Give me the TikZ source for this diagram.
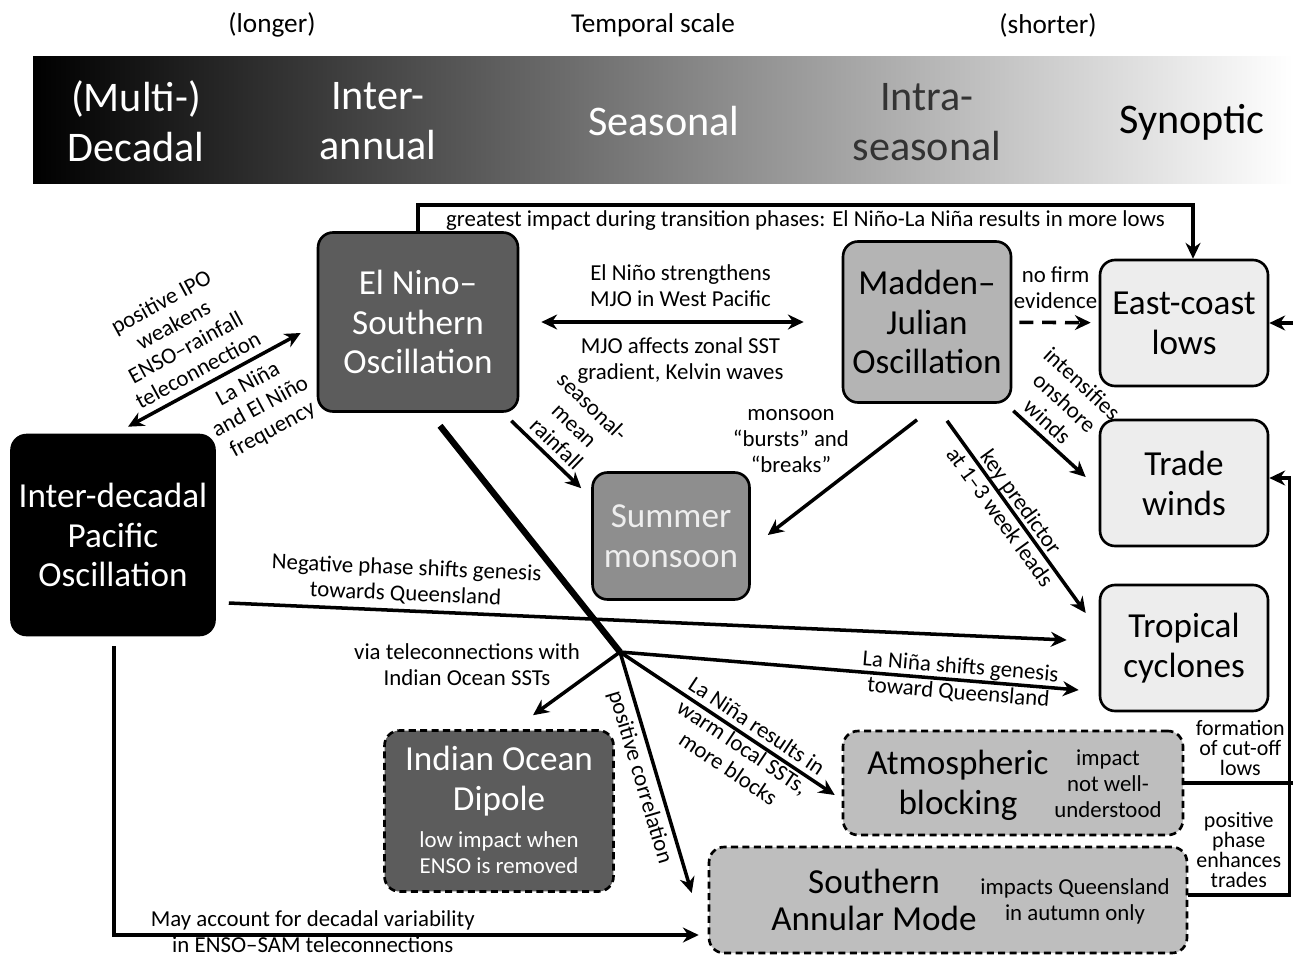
\documentclass[tikz,border=0pt]{standalone}
\usepackage{fontspec}
\setmainfont{Carlito}
\usepackage{tikz}
\usetikzlibrary{positioning, arrows.meta}

\definecolor{ensofill}{HTML}{5C5C5C}
\definecolor{mjofill}{HTML}{B4B4B4}
\definecolor{lightfill}{HTML}{EDEDED}
\definecolor{smfill}{HTML}{8E8E8E}
\definecolor{smtext}{HTML}{EEEEEE}
\definecolor{blockfill}{HTML}{BEBEBE}
\definecolor{intratext}{HTML}{333333}

\begin{document}
\begin{tikzpicture}[x=0.02cm, y=-0.02cm, >={Stealth[length=9pt,width=8.5pt]},
    box/.style={rectangle, rounded corners=0.3cm, draw, line width=1.5pt, align=center, font=\fontsize{20}{22.7}\selectfont},
    dbox/.style={box, dash pattern=on 4pt off 2.5pt},
    bigtxt/.style={align=center, font=\fontsize{20}{22.7}\selectfont},
    lbl/.style={align=center, inner sep=1pt, font=\fontsize{13}{14.7}\selectfont},
    tightlbl/.style={lbl, font=\fontsize{12.5}{11.4}\selectfont},
    conn/.style={->, line width=2pt},
    scaletxt/.style={align=center, font=\fontsize{24}{28.4}\selectfont}]
    \useasboundingbox (0,0) rectangle (1293,956);
    \clip (0,0) rectangle (1293,956);
    % Temporal scale bar
    \node[font=\fontsize{15.5}{18}\selectfont] (longer) at (272,25) {(longer)};
    \node[font=\fontsize{15.5}{18}\selectfont] (temporal) at (653,25) {Temporal scale};
    \node[font=\fontsize{15.5}{18}\selectfont] (shorter) at (1048,25) {(shorter)};
    \shade[left color=black, right color=white] (33,57) rectangle (1293,183);
    \node[scaletxt, text=white] (decadal) at (136,121) {(Multi-)\\Decadal};
    \node[scaletxt, text=white] (interannual) at (378,121) {Inter-\\annual};
    \node[scaletxt, text=white] (seasonal) at (664,121) {Seasonal};
    \node[scaletxt, text=intratext] (intraseasonal) at (927,122) {Intra-\\seasonal};
    \node[scaletxt] (synoptic) at (1192,122) {Synoptic};
    % Climate drivers
    \node[box, fill=ensofill, text=white, minimum width=4cm, minimum height=3.58cm] (enso) at (418,322) {El Nino–\\Southern\\Oscillation};
    \node[box, fill=mjofill, minimum width=3.36cm, minimum height=3.22cm] (mjo) at (927,322) {Madden–\\Julian\\Oscillation};
    \node[box, fill=black, text=white, minimum width=4.06cm, minimum height=4cm] (ipo) at (113,535) {Inter-decadal\\Pacific\\Oscillation};
    \node[box, fill=smfill, text=smtext, minimum width=3.14cm, minimum height=2.54cm] (sm) at (671,536) {Summer\\monsoon};
    % Weather systems
    \node[box, fill=lightfill, minimum width=3.36cm, minimum height=2.52cm] (ecl) at (1184,323) {East-coast\\lows};
    \node[box, fill=lightfill, minimum width=3.36cm, minimum height=2.52cm] (tw) at (1184,483) {Trade\\winds};
    \node[box, fill=lightfill, minimum width=3.36cm, minimum height=2.52cm] (tc) at (1184,648) {Tropical\\cyclones};
    % Dashed boxes
    \node[dbox, fill=ensofill, minimum width=4.58cm, minimum height=3.22cm] (iod) at (499,811) {};
    \node[bigtxt, text=white] (iodT) at (499,781) {Indian Ocean\\Dipole};
    \node[lbl, text=white] (iodS) at (499,853) {low impact when\\ENSO is removed};
    \node[dbox, fill=blockfill, minimum width=6.8cm, minimum height=2.08cm] (ab) at (1013,783) {};
    \node[bigtxt] (abT) at (958,785) {Atmospheric\\blocking};
    \node[lbl] (abS) at (1108,784) {impact\\not well-\\understood};
    \node[dbox, fill=blockfill, minimum width=9.56cm, minimum height=2.12cm] (sam) at (948,900) {};
    \node[bigtxt, font=\fontsize{20}{21.5}\selectfont] (samT) at (874,900) {Southern\\Annular Mode};
    \node[lbl] (samS) at (1075,901) {impacts Queensland\\in autumn only};
    % ENSO links
    \draw[conn] (enso.north) -- (418,205) -| node[lbl, pos=0.25, below=1pt] (toplbl) {greatest impact during transition phases: El Niño-La Niña results in more lows} ([xshift=0.18cm]ecl.north);
    \draw[<->, line width=2pt, shorten <=0.44cm, shorten >=0.76cm] (enso) -- node[lbl, above=7pt] (ensomjoA) {El Niño strengthens\\MJO in West Pacific} node[lbl, below=7pt] (ensomjoB) {MJO affects zonal SST\\gradient, Kelvin waves} (mjo);
    \draw[<->, line width=2pt] ([shift={(15,-7)}]ipo.north) -- node[lbl, sloped, pos=0.45, above=3pt] (ipoA) {positive IPO\\weakens\\ENSO–rainfall\\teleconnection} node[lbl, sloped, pos=0.64, below=4pt] (ipoB) {La Niña\\and El Niño\\frequency} ([shift={(-16,11)}]enso.west);
    \draw[conn] ([shift={(-8,8)}]enso.south east) -- node[lbl, sloped, midway, above=2pt] (rainlbl) {seasonal-\\mean\\rainfall} ([shift={(-10,17)}]sm.north west);
    % ENSO trunk and branches
    \coordinate (hub) at (620,652);
    \draw[line width=3.6pt] ([shift={(22,13)}]enso.south) -- (hub);
    \draw[conn] (hub) -- ([shift={(34,-14)}]iod.north);
    \node[lbl] (viaLbl) at (467,665) {via teleconnections with\\Indian Ocean SSTs};
    \draw[conn] (hub) -- node[lbl, sloped, midway, below=2pt] (corrlbl) {positive correlation} ([shift={(-16,-7)}]sam.west);
    \draw[conn] (hub) -- node[lbl, sloped, pos=0.6, below=-15pt] (blocklbl) {La Niña results in\\warm local SSTs,\\more blocks} ([shift={(-7,12)}]ab.west);
    \draw[conn] (hub) -- node[lbl, sloped, pos=0.74] (genlbl) {La Niña shifts genesis\\toward Queensland} ([shift={(-20,42)}]tc.west);
    % MJO links
    \draw[conn, dash pattern=on 8pt off 5pt, shorten <=0.14cm, shorten >=0.16cm] (mjo) -- node[lbl, above=6pt] (firmlbl) {no firm\\evidence} (ecl);
    \draw[conn] ([shift={(-10,16)}]mjo.south) -- ([shift={(17,-1)}]sm.east);
    \node[lbl] (burstlbl) at (791,441) {monsoon\\“bursts” and\\“breaks”};
    \draw[conn] ([shift={(1,7)}]mjo.south east) -- node[lbl, sloped, pos=0.33, above=2pt] (onshorelbl) {intensifies\\onshore\\winds} ([shift={(-13,-6)}]tw.west);
    \draw[conn] ([shift={(20,17)}]mjo.south) -- node[lbl, sloped, pos=0.46] (predlbl) {key predictor\\at 1–3 week leads} ([shift={(-13,-35)}]tc.west);
    % IPO links
    \draw[conn] ([shift={(13,68)}]ipo.east) -- node[lbl, sloped, pos=0.21, above=2pt] (neglbl) {Negative phase shifts genesis\\towards Queensland} ([shift={(-32,-8)}]tc.west);
    \draw[conn] ([shift={(1,10)}]ipo.south) |- node[lbl, pos=0.67, yshift=2pt] (samlbl) {May account for decadal variability\\in ENSO–SAM teleconnections} ([shift={(-9,35)}]sam.west);
    % Right-hand feedbacks
    \draw[conn] (ab.east) -- node[tightlbl, midway, above=2pt] (cutlbl) {formation\\of cut-off\\lows} ++(112,0) |- (ecl.east);
    \draw[conn] ([yshift=0.1cm]sam.east) -- node[tightlbl, midway, above=2pt] (tradelbl) {positive\\phase\\enhances\\trades} ++(101,0) |- ([yshift=0.1cm]tw.east);
\end{tikzpicture}
\end{document}
